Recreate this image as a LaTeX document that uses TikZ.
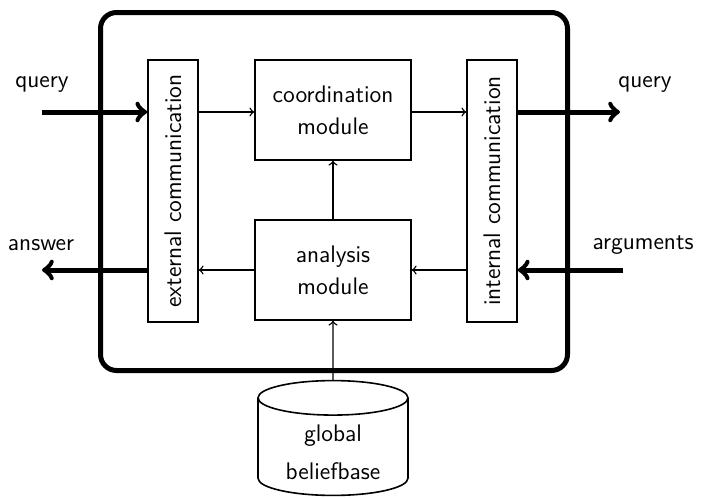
\documentclass[tikz,border=0pt]{standalone}
\usepackage{tikz}
\usetikzlibrary{shapes.geometric}

\begin{document}
\begin{tikzpicture}[x=0.5pt,y=-0.5pt,font=\sffamily\large,
    modbox/.style={draw,line width=0.8pt,minimum width=78pt,minimum height=50pt,
      align=center,inner sep=2pt},
    commbox/.style={draw,line width=0.8pt,minimum width=25pt,minimum height=131pt,
      inner sep=0pt},
    thin arrow/.style={->,line width=0.7pt},
    thick arrow/.style={->,line width=2.5pt}]
  \useasboundingbox (0,0) rectangle (702,498);
  % the agent
  \node[draw,line width=2.5pt,rounded corners=8pt,minimum width=233.5pt,
        minimum height=179pt] (agent) at (334,191.5) {};
  \node[commbox] (ext) at (173,191) {\rotatebox{90}{external communication}};
  \node[commbox] (int) at (492,191) {\rotatebox{90}{internal communication}};
  \node[modbox] (coord) at (333,110) {coordination\\[2pt]module};
  \node[modbox] (anal) at (333,270) {analysis\\[2pt]module};
  \node[draw,line width=0.8pt,cylinder,shape border rotate=90,aspect=0.35,
        minimum width=75pt,minimum height=48pt,align=center,inner sep=1pt]
    (base) at (333,449) {\\[-2pt]global\\[5pt]beliefbase};
  % inside
  \draw[thin arrow] (ext.east |- 0,112) -- (coord.west |- 0,112);
  \draw[thin arrow] (coord.east |- 0,112) -- (int.west |- 0,112);
  \draw[thin arrow] (int.west |- anal) -- (anal.east);
  \draw[thin arrow] (anal.west) -- (ext.east |- anal);
  \draw[thin arrow] (anal.north) -- (coord.south);
  \draw[thin arrow] (base.north) -- (anal.south);
  % outside
  \coordinate (qin) at (42,112);
  \coordinate (aout) at (42,270);
  \coordinate (qout) at (620,112);
  \coordinate (argin) at (623,270);
  \draw[thick arrow] (qin) -- (qin -| ext.west);
  \draw[thick arrow] (ext.west |- aout) -- (aout);
  \draw[thick arrow] (qout -| int.east) -- (qout);
  \draw[thick arrow] (argin) -- (argin -| int.east);
  \node (qinl) at (42,84) {query};
  \node (aoutl) at (41,245) {answer};
  \node (qoutl) at (645,84) {query};
  \node (arginl) at (643,245) {arguments};
\end{tikzpicture}
\end{document}
